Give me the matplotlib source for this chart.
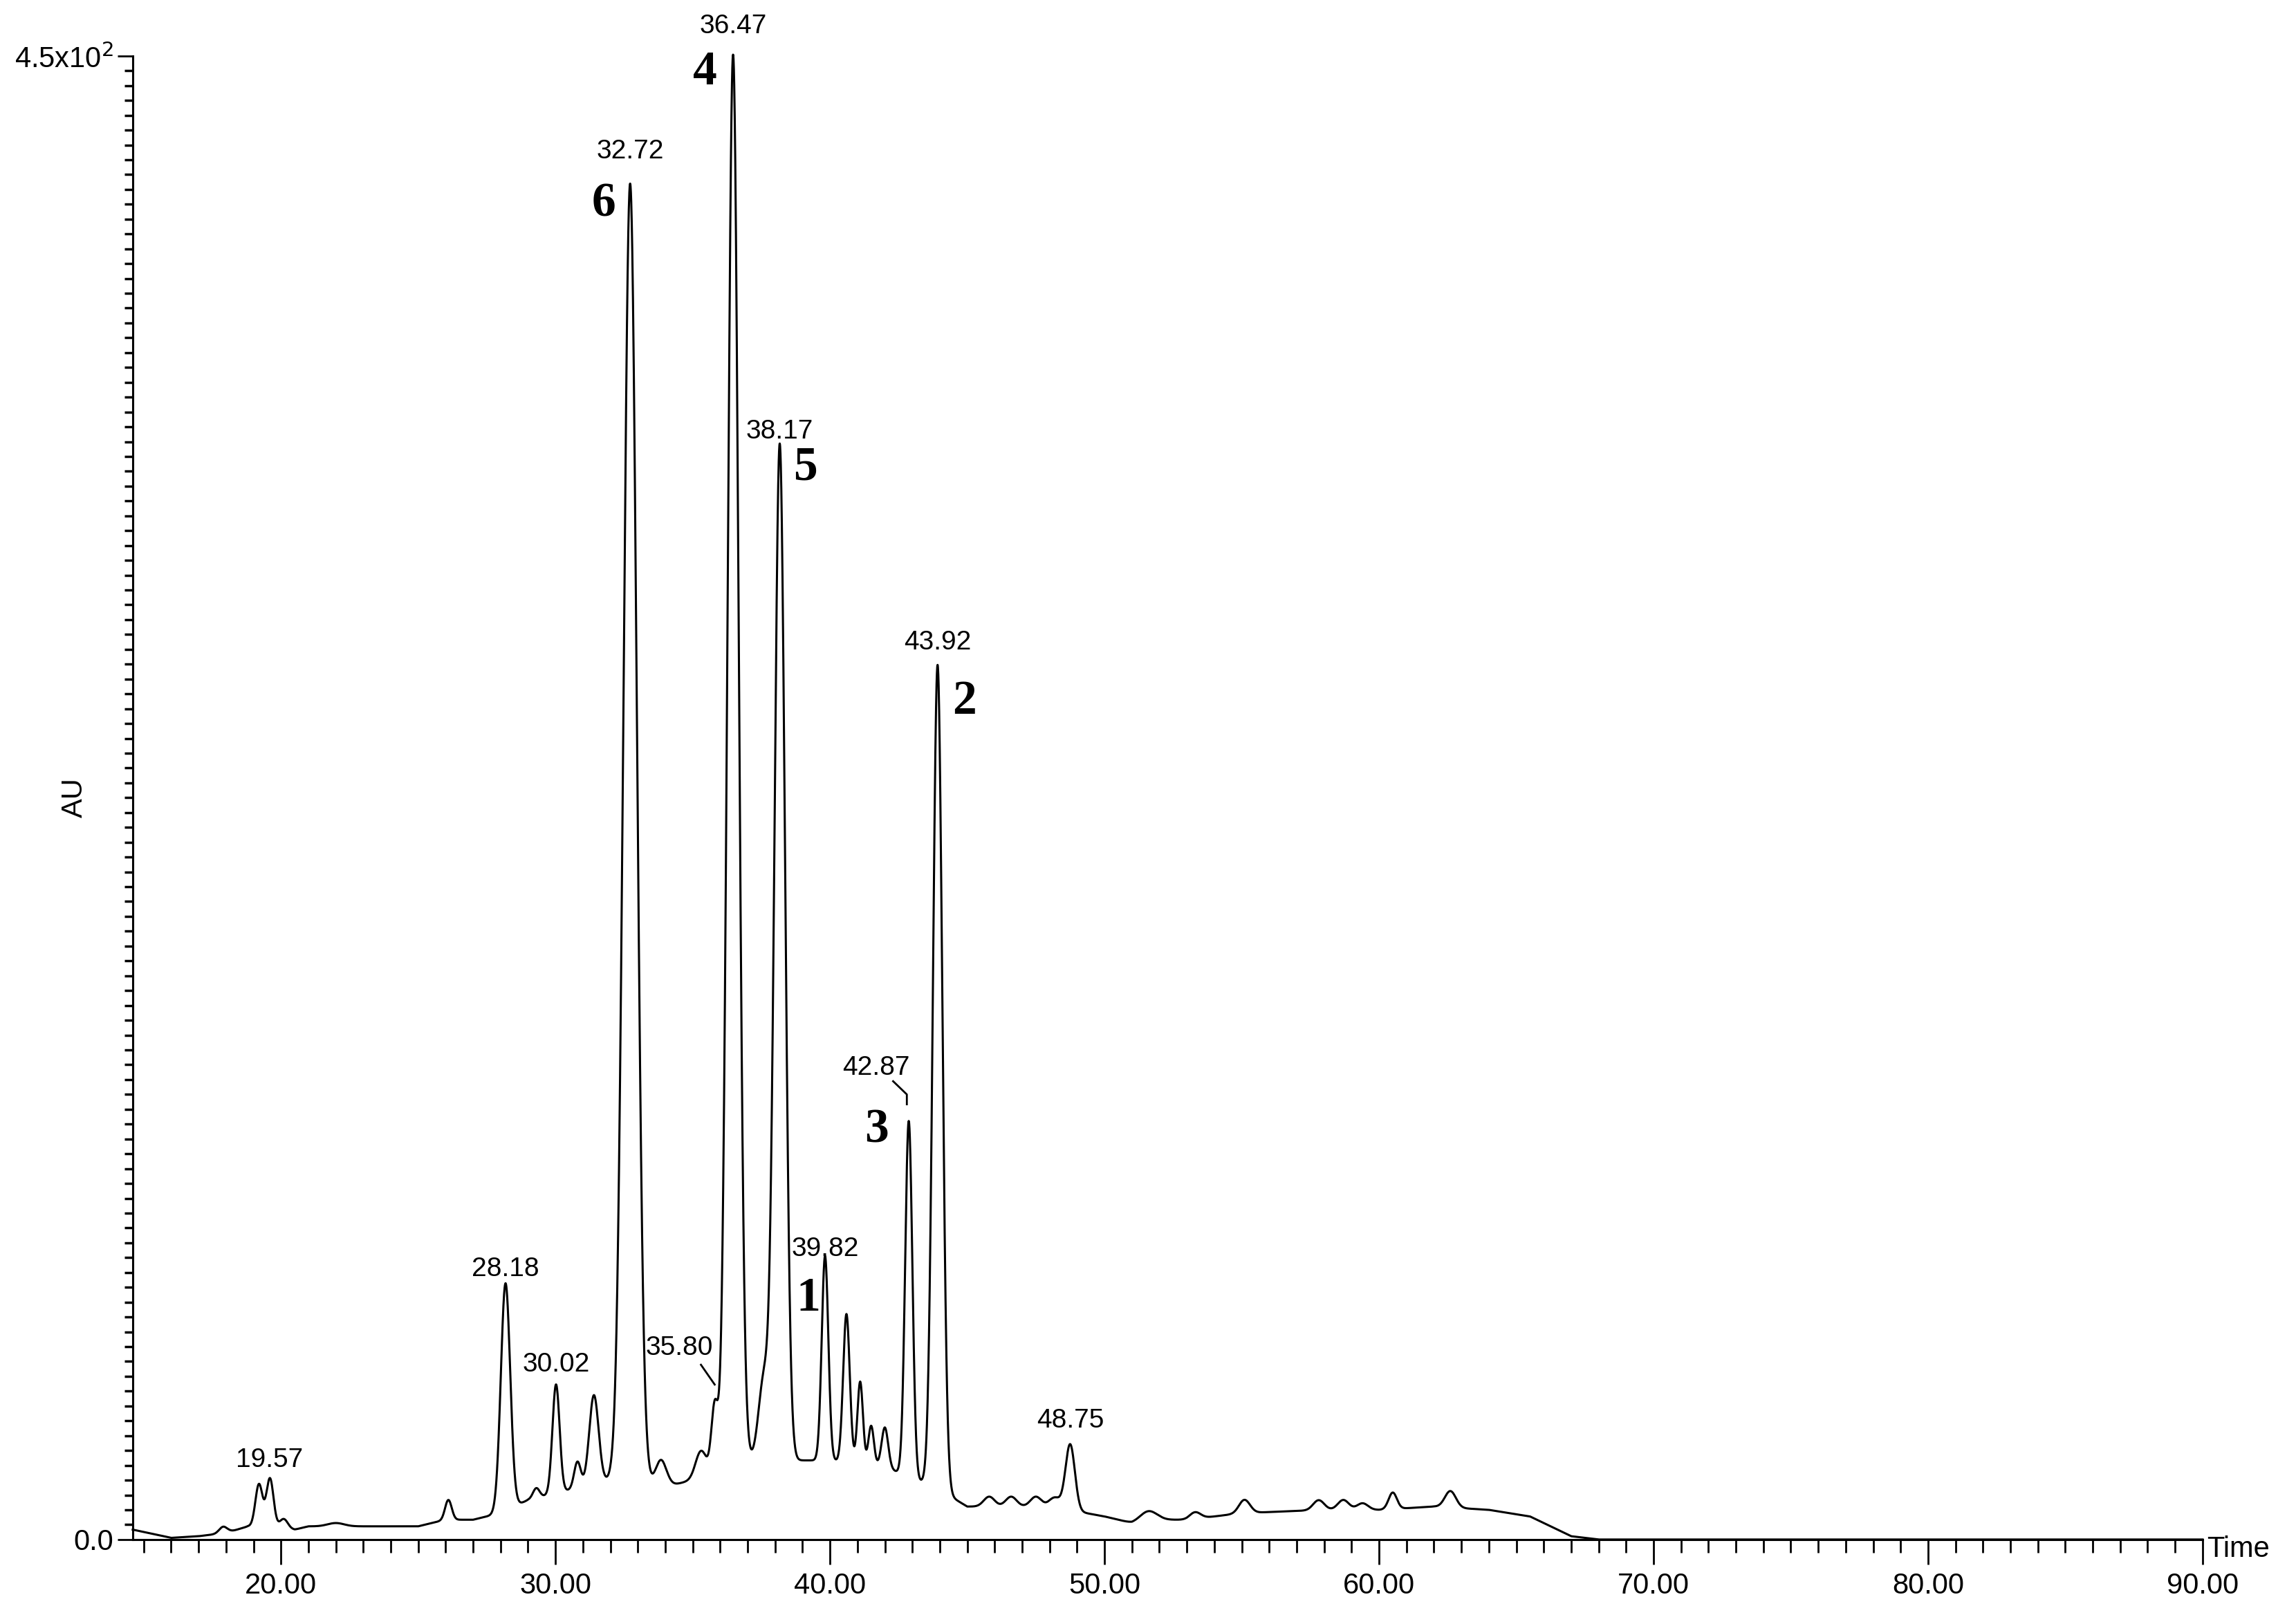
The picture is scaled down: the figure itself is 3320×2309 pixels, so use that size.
import numpy as np
import matplotlib
matplotlib.use("Agg")
import matplotlib.pyplot as plt
from matplotlib.ticker import MultipleLocator, FixedLocator

# Peak table (retention time, height above baseline AU, sigma min)
peak_rt = [19.2, 19.6, 20.1, 17.9, 22.0, 26.1, 28.18, 29.3, 30.02, 30.8, 31.4, 32.72, 33.85, 35.3, 35.80,
           36.47, 37.6, 38.17, 39.82, 40.6, 41.1, 41.5, 42.0, 42.87, 43.92, 45.8, 46.6, 47.5, 48.2, 48.75,
           51.6, 53.3, 55.1, 57.8, 58.7, 59.4, 60.5, 62.6]
peak_h = [13, 15, 3, 2, 1, 6, 69, 3, 33, 8, 27, 394, 8, 8, 20,
          428, 25, 308, 62, 45, 25, 12, 12, 108, 250, 3, 3, 3, 3, 20,
          3, 2, 4, 3, 3, 2, 5, 5]
peak_w = [0.13, 0.13, 0.15, 0.15, 0.3, 0.12, 0.17, 0.12, 0.13, 0.12, 0.17, 0.24, 0.2, 0.2, 0.12,
          0.2, 0.2, 0.19, 0.12, 0.12, 0.1, 0.1, 0.12, 0.13, 0.17, 0.2, 0.2, 0.2, 0.2, 0.17,
          0.3, 0.2, 0.2, 0.2, 0.2, 0.2, 0.15, 0.2]

base_t = [14.6, 16, 17, 18, 18.8, 20.5, 21, 25, 26, 27, 28, 29, 30, 32, 34, 35, 37, 40, 42, 44, 45,
          48, 50, 51, 52, 53, 55, 58, 60, 62, 64, 65.5, 67, 68, 90]
base_y = [3, 0.5, 1, 2, 4, 3, 4, 4, 6, 6, 8, 12, 14, 18, 16, 18, 24, 24, 22, 15, 10,
          10, 7, 5, 6, 6, 8, 9, 9, 10, 9, 7, 1, 0, 0]

rt_labels = ["19.57", "28.18", "30.02", "32.72", "35.80", "36.47", "38.17", "39.82", "42.87", "43.92", "48.75"]
rt_lab_x = [19.57, 28.18, 30.02, 32.72, 34.5, 36.47, 38.17, 39.82, 41.67, 43.92, 48.75]
rt_lab_y = [24, 82, 53, 421, 58, 459, 336, 88, 143, 272, 36]

cmp_labels = ["4", "6", "5", "2", "3", "1"]
cmp_x = [35.45, 31.75, 39.1, 44.9, 41.7, 39.2]
cmp_y = [445, 405, 325, 254, 124, 73]

t = np.linspace(14.6, 90, 12000)
y = np.interp(t, base_t, base_y)
for c, h, w in zip(peak_rt, peak_h, peak_w):
    y = y + h * np.exp(-0.5 * ((t - c) / w) ** 2)

fig = plt.figure(figsize=(33.2, 23.09), dpi=100)
ax = fig.add_axes([0.0578, 0.036, 0.9015, 0.929])
ax.plot(t, y, color="black", lw=2.2, clip_on=False)
ax.set_xlim(14.6, 90)
ax.set_ylim(0, 450)
for s in ["top", "right"]:
    ax.spines[s].set_visible(False)
for s in ["left", "bottom"]:
    ax.spines[s].set_linewidth(2.2)

ax.xaxis.set_major_locator(FixedLocator([20, 30, 40, 50, 60, 70, 80, 90]))
ax.xaxis.set_minor_locator(MultipleLocator(1))
ax.set_xticklabels(["20.00", "30.00", "40.00", "50.00", "60.00", "70.00", "80.00", "90.00"],
                   family="Liberation Sans", fontsize=30)
ax.tick_params(axis="x", which="major", length=26, width=2, direction="out", pad=8)
ax.tick_params(axis="x", which="minor", length=14, width=2, direction="out")

ax.yaxis.set_major_locator(FixedLocator([0, 450]))
ax.yaxis.set_minor_locator(MultipleLocator(4.5))
ax.set_yticklabels(["0.0", r"4.5x10$^2$"], family="Liberation Sans", fontsize=30)
ax.tick_params(axis="y", which="major", length=16, width=2, direction="out", pad=4)
ax.tick_params(axis="y", which="minor", length=9, width=2.5, direction="out")

ax.text(-0.028, 0.5, "AU", transform=ax.transAxes, rotation=90, ha="center", va="center",
        family="Liberation Sans", fontsize=30)
ax.text(91.3, -3, "Time", ha="center", va="center", family="Liberation Sans", fontsize=30, clip_on=False)

for lab, x, yy in zip(rt_labels, rt_lab_x, rt_lab_y):
    ax.text(x, yy, lab, ha="center", va="center", family="Liberation Sans", fontsize=28, clip_on=False)
# leader lines
ax.plot([35.3, 35.80], [53, 47], color="black", lw=2)
ax.plot([42.3, 42.8, 42.8], [139, 135, 132], color="black", lw=2)

for lab, x, yy in zip(cmp_labels, cmp_x, cmp_y):
    ax.text(x, yy, lab, ha="center", va="center", family="Liberation Serif", fontweight="bold",
            fontsize=50, clip_on=False)

fig.savefig("out.png", dpi=100, facecolor="white")
